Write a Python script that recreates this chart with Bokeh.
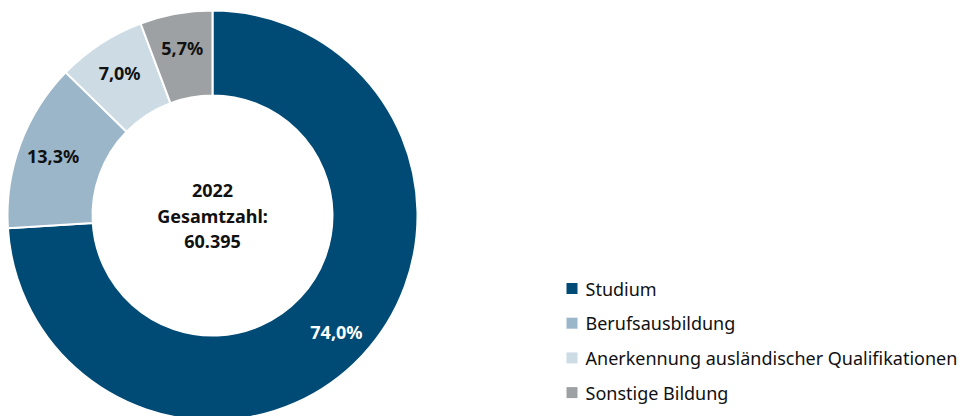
import numpy as np
from bokeh.plotting import figure
from bokeh.models import ColumnDataSource, Range1d
from bokeh.core.properties import value
from bokeh.embed import file_html
from bokeh.resources import INLINE

categories = ["Studium", "Berufsausbildung", "Anerkennung ausländischer Qualifikationen", "Sonstige Bildung"]
shares = [74.0, 13.3, 7.0, 5.7]
labels = ["74,0%", "13,3%", "7,0%", "5,7%"]
colors = ["#004B76", "#9BB6C9", "#CCDBE4", "#9DA1A4"]
label_colors = ["white", "#111111", "#111111", "#111111"]
center_lines = ["2022", "Gesamtzahl:", "60.395"]

W, H = 962, 416
cx, cy = 212, H - 215
r_in, r_out, r_lab = 120, 205, 170

frac = np.array(shares) / sum(shares)
cum = np.concatenate([[0], np.cumsum(frac)])
start = np.pi / 2 - 2 * np.pi * cum[:-1]
end = np.pi / 2 - 2 * np.pi * cum[1:]
mid = (start + end) / 2

src = ColumnDataSource(dict(cat=categories, start=start, end=end, color=colors,
                            lx=cx + r_lab * np.cos(mid), ly=cy + r_lab * np.sin(mid),
                            lab=labels, lcol=label_colors))

p = figure(width=W, height=H, x_range=Range1d(0, W), y_range=Range1d(0, H),
           output_backend="svg", toolbar_location=None, min_border=0)
p.axis.visible = False
p.grid.visible = False
p.outline_line_color = None
p.background_fill_color = "white"

p.annular_wedge(x=cx, y=cy, inner_radius=r_in, outer_radius=r_out,
                start_angle="end", end_angle="start", direction="anticlock",
                fill_color="color", line_color="white", line_width=2, source=src)

p.text(x="lx", y="ly", text="lab", text_color="lcol", source=src,
       text_font=value("Noto Sans"), text_font_style="bold", text_font_size="18px",
       text_align="center", text_baseline="middle")

p.text(x=[cx] * 3, y=[cy + 25 - 25.5 * i for i in range(3)], text=center_lines,
       text_font=value("Noto Sans"), text_font_style="bold", text_font_size="18px",
       text_color="#111111", text_align="center", text_baseline="middle")

leg_y = [128 - 34.7 * i for i in range(len(categories))]
p.scatter(x=[571.5] * 4, y=leg_y, marker="square", size=11, fill_color=colors, line_color=None)
p.text(x=[585] * 4, y=leg_y, text=categories, text_font=value("Noto Sans"),
       text_font_size="18px", text_color="#111111", text_align="left", text_baseline="middle")

open("out.html", "w").write(file_html(p, INLINE))
